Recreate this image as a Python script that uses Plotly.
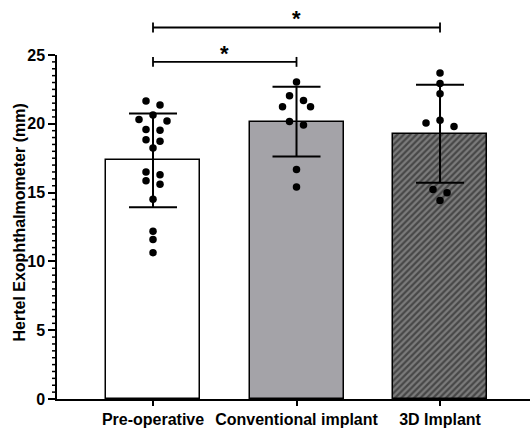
import math
import plotly.graph_objects as go

# ---------------- data ----------------
categories = ["Pre-operative", "Conventional implant", "3D Implant"]
pre_operative = [21.65, 21.36, 20.64, 20.31, 20.21, 19.59, 19.54, 18.84, 18.73,
                 18.25, 16.50, 16.29, 15.86, 15.61, 14.51, 12.19, 11.59, 10.63]
conventional = [23.04, 22.03, 21.70, 21.24, 21.24, 20.17, 19.92, 16.67, 15.40]
implant_3d = [23.69, 22.92, 22.18, 20.26, 20.06, 19.81, 15.23, 14.99, 14.42]
groups = [pre_operative, conventional, implant_3d]
y_tick_step = 5
y_minor_step = 0.5
comparisons = [(0, 1, "*", 24.5), (0, 2, "*", 27.0)]  # (from, to, label, level)

# ---------------- layout constants ----------------
W, H = 530, 428
M_L, M_R, M_T, M_B = 57, 0, 55, 25
X_RANGE = [-0.669, 2.627]
Y_RANGE = [0, 25]
PLOT_W = W - M_L - M_R
PLOT_H = H - M_T - M_B
PX_PER_X = PLOT_W / (X_RANGE[1] - X_RANGE[0])
PX_PER_Y = PLOT_H / (Y_RANGE[1] - Y_RANGE[0])
FONT = "Liberation Sans, Arial, Helvetica, sans-serif"


def mean(v):
    return sum(v) / len(v)


def sd(v):
    m = mean(v)
    return math.sqrt(sum((a - m) ** 2 for a in v) / (len(v) - 1))


def swarm(values, step_px=14.0, row_px=8.0, hit_px=8.0):
    """Row based beeswarm: returns x offsets (category units)."""
    order = sorted(range(len(values)), key=lambda i: -values[i])
    rows, cur = [], []
    for i in order:
        if cur and (values[cur[0]] - values[i]) * PX_PER_Y < row_px:
            cur.append(i)
        else:
            if cur:
                rows.append(cur)
            cur = [i]
    if cur:
        rows.append(cur)
    offs = [0.0] * len(values)
    placed = []
    for row in rows:
        n = len(row)
        if n % 2:
            base = [0]
            k = 1
            while len(base) < n:
                base += [-k, k]
                k += 1
        else:
            base = []
            k = 0.5
            while len(base) < n:
                base += [-k, k]
                k += 1
        base = base[:n]
        xs = None
        for spread in (1, 2, 3, 4):
            cand = [b * step_px * spread for b in base]
            ok = all(
                math.hypot(x - px, values[i] * PX_PER_Y - py) >= hit_px
                for x, i in zip(cand, row) for px, py in placed
            )
            xs = cand
            if ok:
                break
        for x, i in zip(xs, row):
            offs[i] = x / PX_PER_X
            placed.append((x, values[i] * PX_PER_Y))
    return offs


def paper_x(v):
    return (v - X_RANGE[0]) / (X_RANGE[1] - X_RANGE[0])


def paper_y(v):
    return (v - Y_RANGE[0]) / (Y_RANGE[1] - Y_RANGE[0])


fig = go.Figure()

bar_styles = [
    dict(color="white", pattern=dict(shape="")),
    dict(color="#a4a3a8", pattern=dict(shape="")),
    dict(color="#7c7c7c", pattern=dict(shape="/", fgcolor="#111111", bgcolor="#7c7c7c",
                                        size=4.5, solidity=0.5)),
]

for idx, vals in enumerate(groups):
    st = bar_styles[idx]
    fig.add_trace(go.Bar(
        x=[idx], y=[mean(vals)], width=0.655,
        marker=dict(color=st["color"], pattern=st["pattern"],
                    line=dict(color="black", width=1.5)),
        error_y=dict(type="data", array=[sd(vals)], visible=True,
                     color="black", thickness=2, width=24),
        showlegend=False, hoverinfo="skip",
    ))

for idx, vals in enumerate(groups):
    offs = swarm(vals)
    fig.add_trace(go.Scatter(
        x=[idx + o for o in offs], y=vals, mode="markers",
        marker=dict(color="black", size=7.5, line=dict(width=0)),
        showlegend=False, hoverinfo="skip",
    ))

shapes = []
annotations = []

# minor ticks on the y axis (every y_minor_step, skipping major ticks)
n_minor = int(round((Y_RANGE[1] - Y_RANGE[0]) / y_minor_step))
for k in range(n_minor + 1):
    v = Y_RANGE[0] + k * y_minor_step
    if abs(v / y_tick_step - round(v / y_tick_step)) < 1e-9:
        continue
    shapes.append(dict(type="line", xref="paper", yref="paper",
                       x0=-5 / PLOT_W, x1=0, y0=paper_y(v), y1=paper_y(v),
                       line=dict(color="black", width=1.5), layer="above"))

cap = 5 / PLOT_H
for a, b, lab, lvl in comparisons:
    x0, x1, yy = paper_x(a), paper_x(b), paper_y(lvl)
    line = dict(color="black", width=1.8)
    shapes.append(dict(type="line", xref="paper", yref="paper", x0=x0, x1=x1, y0=yy, y1=yy, line=line))
    shapes.append(dict(type="line", xref="paper", yref="paper", x0=x0, x1=x0, y0=yy - cap, y1=yy + cap, line=line))
    shapes.append(dict(type="line", xref="paper", yref="paper", x0=x1, x1=x1, y0=yy - cap, y1=yy + cap, line=line))
    annotations.append(dict(text=lab, xref="paper", yref="paper", x=(x0 + x1) / 2, y=yy,
                            xanchor="center", yanchor="bottom", yshift=-6, showarrow=False,
                            font=dict(family=FONT, size=22, color="black", weight="bold")))

annotations.append(dict(text="Hertel Exophthalmometer (mm)", xref="paper", yref="paper",
                        x=(20 - M_L) / PLOT_W, y=0.513, textangle=-90,
                        xanchor="center", yanchor="middle", showarrow=False,
                        font=dict(family=FONT, size=16, color="black", weight="bold")))

fig.update_layout(
    width=W, height=H,
    margin=dict(l=M_L, r=M_R, t=M_T, b=M_B, pad=0),
    paper_bgcolor="white", plot_bgcolor="white",
    barmode="overlay", bargap=0,
    shapes=shapes, annotations=annotations,
    font=dict(family=FONT, size=16, color="black"),
    xaxis=dict(
        range=X_RANGE, tickvals=list(range(len(categories))), ticktext=categories,
        showline=True, linecolor="black", linewidth=1.5, ticks="outside", ticklen=5,
        tickwidth=1.5, tickcolor="black", showgrid=False, zeroline=False,
        tickfont=dict(family=FONT, size=16, color="black", weight="bold"),
    ),
    yaxis=dict(
        range=Y_RANGE, tickmode="linear", tick0=0, dtick=y_tick_step,
        showline=True, linecolor="black", linewidth=1.5,
        ticks="outside", ticklen=7, tickwidth=1.5, tickcolor="black",
        showgrid=False, zeroline=False,
        tickfont=dict(family=FONT, size=16, color="black", weight="bold"),
    ),
)

fig.write_html("out.html")
